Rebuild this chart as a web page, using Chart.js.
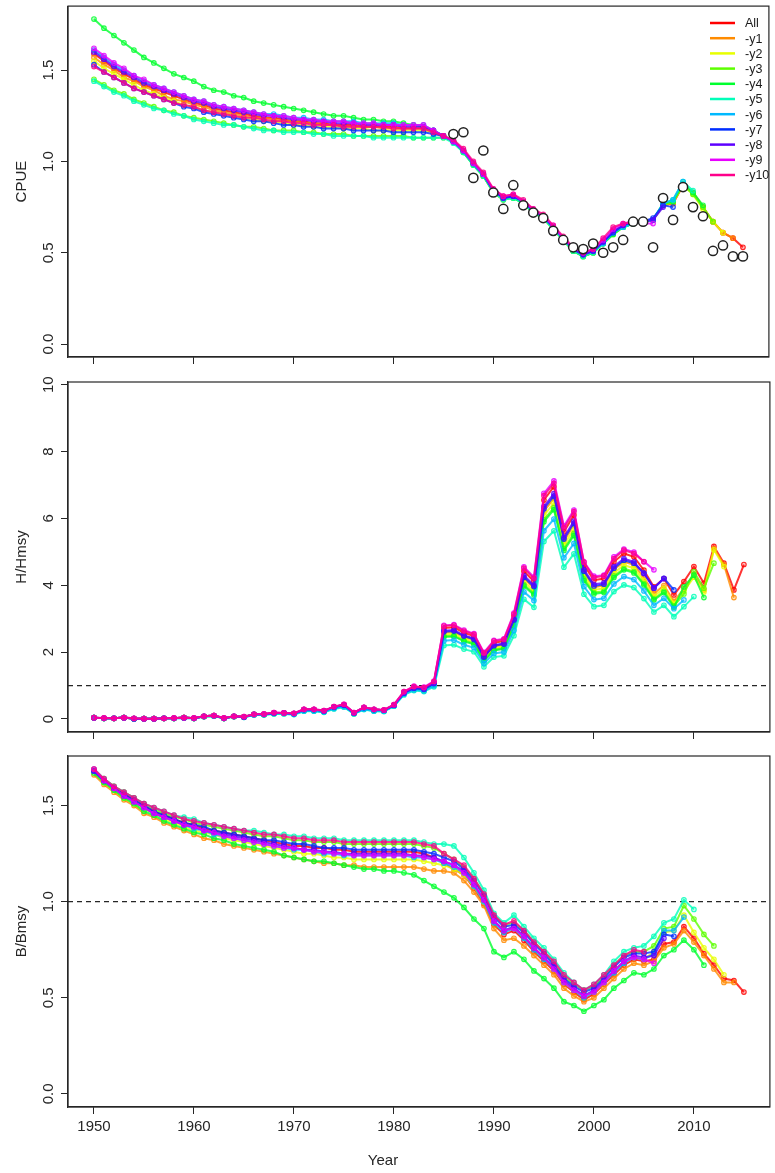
<!DOCTYPE html>
<html>
<head>
<meta charset="utf-8">
<title>Retrospective analysis: CPUE, H/Hmsy, B/Bmsy</title>
<script src="https://cdn.jsdelivr.net/npm/chart.js@4.4.1/dist/chart.umd.min.js"></script>
<style>
  html, body { margin: 0; padding: 0; background: #fff; }
  #page { position: relative; width: 775px; height: 1173px; overflow: hidden; }
  #page canvas { position: absolute; left: 0; }
</style>
</head>
<body>
<div id="page">
  <canvas id="cpueChart" width="775" height="372" style="top:0px"></canvas>
  <canvas id="hChart" width="775" height="372" style="top:372px"></canvas>
  <canvas id="bChart" width="775" height="429" style="top:744px"></canvas>
</div>
<script>
/**
 * Retrospective runs (All, -y1 ... -y10) for CPUE, H/Hmsy and B/Bmsy
 */

const FONT = "'Liberation Sans', Arial, Helvetica, sans-serif";
const INK = '#262626';

const YEARS = [
    1950, 1951, 1952, 1953, 1954, 1955, 1956, 1957, 1958, 1959,
    1960, 1961, 1962, 1963, 1964, 1965, 1966, 1967, 1968, 1969,
    1970, 1971, 1972, 1973, 1974, 1975, 1976, 1977, 1978, 1979,
    1980, 1981, 1982, 1983, 1984, 1985, 1986, 1987, 1988, 1989,
    1990, 1991, 1992, 1993, 1994, 1995, 1996, 1997, 1998, 1999,
    2000, 2001, 2002, 2003, 2004, 2005, 2006, 2007, 2008, 2009,
    2010, 2011, 2012, 2013, 2014, 2015
];
const OBS_YEARS = [
    1986, 1987, 1988, 1989,
    1990, 1991, 1992, 1993, 1994, 1995, 1996, 1997, 1998, 1999,
    2000, 2001, 2002, 2003, 2004, 2005, 2006, 2007, 2008, 2009,
    2010, 2011, 2012, 2013, 2014, 2015
];

const X_MIN = 1947.4;
const X_MAX = 2017.6;
const X_TICKS = [1950, 1960, 1970, 1980, 1990, 2000, 2010];
const CPUE_TICKS = [0, 0.5, 1, 1.5];
const H_TICKS = [0, 2, 4, 6, 8, 10];
const B_TICKS = [0, 0.5, 1, 1.5];
const REF_LEVEL = 1;

const SERIES_LABELS = ['All', '-y1', '-y2', '-y3', '-y4', '-y5', '-y6', '-y7', '-y8', '-y9', '-y10'];
const SERIES_COLORS = ['#FF0000', '#FF8B00', '#E8FF00', '#5DFF00', '#00FF2E', '#00FFB9',
                       '#00B9FF', '#002EFF', '#5D00FF', '#E800FF', '#FF008B'];

// ---------- CPUE (fitted) ----------
const CPUE_ALL = [
    1.59,1.55,1.51,1.48,1.45,1.42,1.40,1.38,1.36,1.34,
    1.32,1.31,1.29,1.28,1.27,1.26,1.25,1.24,1.24,1.23,
    1.22,1.22,1.21,1.21,1.20,1.20,1.20,1.19,1.19,1.19,
    1.19,1.18,1.18,1.18,1.16,1.14,1.11,1.06,0.99,0.93,
    0.84,0.80,0.81,0.78,0.73,0.70,0.64,0.58,0.52,0.49,
    0.51,0.56,0.61,0.65,0.67,0.67,0.68,0.76,0.77,0.87,
    0.83,0.75,0.67,0.61,0.58,0.53
];
const CPUE_Y1 = [
    1.57,1.53,1.50,1.46,1.44,1.41,1.39,1.36,1.34,1.33,
    1.31,1.30,1.28,1.27,1.26,1.25,1.24,1.24,1.23,1.22,
    1.22,1.21,1.21,1.20,1.20,1.19,1.19,1.19,1.19,1.18,
    1.18,1.18,1.18,1.18,1.16,1.14,1.11,1.06,0.99,0.92,
    0.83,0.79,0.81,0.77,0.72,0.69,0.63,0.57,0.51,0.48,
    0.50,0.56,0.61,0.64,0.67,0.67,0.68,0.76,0.77,0.87,
    0.83,0.75,0.67,0.61,0.58
];
const CPUE_Y2 = [
    1.55,1.51,1.48,1.45,1.42,1.39,1.37,1.35,1.33,1.31,
    1.30,1.28,1.27,1.26,1.25,1.24,1.23,1.22,1.22,1.21,
    1.20,1.20,1.19,1.19,1.19,1.18,1.18,1.18,1.17,1.17,
    1.17,1.17,1.17,1.17,1.16,1.14,1.11,1.06,0.99,0.93,
    0.84,0.80,0.80,0.78,0.73,0.70,0.64,0.58,0.52,0.49,
    0.51,0.55,0.61,0.64,0.66,0.67,0.68,0.76,0.78,0.87,
    0.82,0.74,0.67,0.61
];
const CPUE_Y3 = [
    1.45,1.42,1.39,1.37,1.34,1.32,1.30,1.28,1.27,1.25,
    1.24,1.23,1.22,1.21,1.20,1.19,1.19,1.18,1.17,1.17,
    1.17,1.16,1.16,1.15,1.15,1.15,1.14,1.14,1.14,1.14,
    1.14,1.14,1.13,1.13,1.13,1.13,1.11,1.05,0.98,0.92,
    0.83,0.79,0.80,0.77,0.72,0.69,0.63,0.57,0.51,0.48,
    0.50,0.55,0.60,0.64,0.66,0.67,0.68,0.76,0.78,0.87,
    0.82,0.75,0.67
];
const CPUE_Y4 = [
    1.78,1.73,1.69,1.65,1.61,1.57,1.54,1.51,1.48,1.46,
    1.44,1.41,1.39,1.38,1.36,1.35,1.33,1.32,1.31,1.30,
    1.29,1.28,1.27,1.26,1.25,1.25,1.24,1.23,1.23,1.22,
    1.22,1.21,1.20,1.19,1.17,1.14,1.11,1.05,0.98,0.92,
    0.84,0.80,0.80,0.77,0.72,0.69,0.63,0.57,0.51,0.48,
    0.50,0.55,0.60,0.64,0.66,0.67,0.68,0.77,0.78,0.88,
    0.83,0.76
];
const CPUE_Y5 = [
    1.44,1.41,1.38,1.36,1.33,1.31,1.29,1.28,1.26,1.25,
    1.23,1.22,1.21,1.20,1.20,1.19,1.18,1.17,1.17,1.16,
    1.16,1.16,1.15,1.15,1.14,1.14,1.14,1.14,1.13,1.13,
    1.13,1.13,1.13,1.13,1.13,1.13,1.10,1.05,0.98,0.92,
    0.83,0.79,0.80,0.77,0.72,0.69,0.63,0.57,0.51,0.48,
    0.50,0.55,0.61,0.64,0.66,0.67,0.68,0.77,0.79,0.89,
    0.84
];
const CPUE_Y6 = [
    1.61,1.57,1.53,1.50,1.47,1.44,1.42,1.40,1.38,1.36,
    1.34,1.33,1.31,1.30,1.29,1.28,1.27,1.26,1.26,1.25,
    1.24,1.24,1.23,1.23,1.22,1.22,1.22,1.21,1.21,1.21,
    1.21,1.20,1.20,1.20,1.17,1.14,1.11,1.06,0.99,0.93,
    0.84,0.80,0.81,0.78,0.73,0.70,0.64,0.58,0.52,0.49,
    0.51,0.55,0.61,0.64,0.66,0.67,0.68,0.77,0.79,0.89
];
const CPUE_Y7 = [
    1.53,1.49,1.46,1.43,1.40,1.38,1.36,1.34,1.32,1.30,
    1.29,1.27,1.26,1.25,1.24,1.23,1.22,1.22,1.21,1.20,
    1.20,1.19,1.19,1.18,1.18,1.18,1.17,1.17,1.17,1.17,
    1.16,1.16,1.16,1.16,1.15,1.14,1.11,1.06,0.99,0.93,
    0.84,0.80,0.81,0.78,0.73,0.70,0.64,0.58,0.52,0.49,
    0.51,0.56,0.61,0.65,0.67,0.67,0.69,0.76,0.75
];
const CPUE_Y8 = [
    1.60,1.56,1.52,1.49,1.46,1.43,1.41,1.39,1.37,1.35,
    1.33,1.32,1.30,1.29,1.28,1.27,1.26,1.25,1.25,1.24,
    1.23,1.23,1.22,1.22,1.21,1.21,1.21,1.20,1.20,1.20,
    1.20,1.19,1.19,1.19,1.17,1.14,1.11,1.06,0.99,0.93,
    0.84,0.80,0.81,0.78,0.73,0.70,0.64,0.58,0.52,0.49,
    0.51,0.56,0.62,0.65,0.67,0.67,0.68,0.75
];
const CPUE_Y9 = [
    1.62,1.58,1.54,1.51,1.47,1.45,1.42,1.40,1.38,1.36,
    1.34,1.33,1.31,1.30,1.29,1.28,1.27,1.26,1.25,1.25,
    1.24,1.23,1.23,1.22,1.22,1.22,1.21,1.21,1.21,1.20,
    1.20,1.20,1.20,1.20,1.17,1.14,1.11,1.06,0.99,0.93,
    0.85,0.81,0.82,0.78,0.74,0.70,0.65,0.58,0.53,0.50,
    0.52,0.57,0.63,0.66,0.67,0.66,0.66
];
const CPUE_Y10 = [
    1.52,1.49,1.46,1.43,1.40,1.38,1.36,1.34,1.32,1.31,
    1.30,1.28,1.27,1.26,1.25,1.24,1.24,1.23,1.22,1.22,
    1.21,1.21,1.20,1.20,1.20,1.19,1.19,1.19,1.19,1.19,
    1.18,1.18,1.18,1.18,1.16,1.14,1.12,1.07,1.00,0.94,
    0.85,0.81,0.82,0.79,0.74,0.71,0.65,0.59,0.53,0.50,
    0.52,0.58,0.64,0.66,0.67,0.67
];
// observed CPUE index (1986-2015)
const CPUE_OBS = [
    1.15,1.16,0.91,1.06,
    0.83,0.74,0.87,0.76,0.72,0.69,0.62,0.57,0.53,0.52,
    0.55,0.50,0.53,0.57,0.67,0.67,0.53,0.80,0.68,0.86,
    0.75,0.70,0.51,0.54,0.48,0.48
];

// ---------- H/Hmsy ----------
const H_ALL = [
    0.04,0.02,0.02,0.04,0.01,0.01,0.01,0.02,0.02,0.04,
    0.02,0.08,0.10,0.02,0.08,0.06,0.14,0.14,0.18,0.18,
    0.16,0.28,0.28,0.24,0.36,0.42,0.18,0.34,0.28,0.26,
    0.42,0.80,0.95,0.92,1.10,2.72,2.74,2.58,2.48,1.93,
    2.28,2.33,3.08,4.42,4.12,6.55,6.95,5.60,6.10,4.60,
    4.15,4.20,4.70,4.95,4.85,4.45,3.95,4.20,3.71,4.11,
    4.56,4.06,5.16,4.66,3.86,4.62
];
const H_Y1 = [
    0.04,0.02,0.02,0.04,0.01,0.01,0.01,0.02,0.02,0.04,
    0.02,0.08,0.10,0.02,0.08,0.06,0.14,0.14,0.18,0.18,
    0.16,0.28,0.28,0.24,0.36,0.42,0.18,0.34,0.28,0.26,
    0.41,0.78,0.92,0.89,1.06,2.58,2.60,2.45,2.36,1.83,
    2.17,2.21,2.93,4.20,3.91,6.22,6.60,5.32,5.80,4.37,
    3.94,3.99,4.47,4.70,4.61,4.23,3.75,3.99,3.52,3.90,
    4.33,3.86,5.10,4.62,3.63
];
const H_Y2 = [
    0.04,0.02,0.02,0.04,0.01,0.01,0.01,0.02,0.02,0.04,
    0.02,0.08,0.10,0.02,0.08,0.06,0.14,0.14,0.18,0.18,
    0.16,0.28,0.28,0.24,0.36,0.42,0.18,0.34,0.28,0.26,
    0.40,0.77,0.91,0.88,1.04,2.53,2.55,2.40,2.31,1.79,
    2.12,2.17,2.86,4.11,3.83,6.09,6.46,5.21,5.67,4.28,
    3.86,3.91,4.37,4.60,4.51,4.14,3.67,3.91,3.45,3.82,
    4.24,3.80,5.06,4.56
];
const H_Y3 = [
    0.04,0.02,0.02,0.04,0.01,0.01,0.01,0.02,0.02,0.04,
    0.02,0.07,0.09,0.02,0.07,0.06,0.13,0.13,0.16,0.17,
    0.15,0.25,0.25,0.22,0.33,0.38,0.16,0.31,0.25,0.24,
    0.40,0.76,0.90,0.87,1.03,2.48,2.49,2.35,2.26,1.76,
    2.07,2.12,2.80,4.02,3.75,5.96,6.32,5.10,5.55,4.19,
    3.78,3.82,4.28,4.50,4.41,4.05,3.59,3.82,3.38,3.74,
    4.41,3.91,4.66
];
const H_Y4 = [
    0.04,0.02,0.02,0.04,0.01,0.01,0.01,0.02,0.02,0.04,
    0.02,0.07,0.09,0.02,0.07,0.06,0.13,0.13,0.16,0.17,
    0.15,0.25,0.25,0.22,0.33,0.38,0.16,0.31,0.25,0.24,
    0.40,0.76,0.90,0.86,1.02,2.45,2.47,2.32,2.23,1.74,
    2.05,2.10,2.77,3.98,3.71,5.90,6.26,5.04,5.49,4.14,
    3.74,3.78,4.23,4.46,4.37,4.01,3.56,3.78,3.34,3.95,
    4.30,3.63
];
const H_Y5 = [
    0.04,0.02,0.02,0.04,0.01,0.01,0.01,0.02,0.02,0.03,
    0.02,0.07,0.09,0.02,0.07,0.05,0.12,0.12,0.15,0.15,
    0.13,0.23,0.23,0.20,0.30,0.35,0.15,0.28,0.23,0.22,
    0.38,0.72,0.85,0.82,0.96,2.20,2.22,2.09,2.01,1.56,
    1.85,1.89,2.49,3.58,3.34,5.31,5.63,4.54,4.94,3.73,
    3.36,3.40,3.81,4.01,3.93,3.60,3.20,3.40,3.06,3.36,
    3.66
];
const H_Y6 = [
    0.04,0.02,0.02,0.04,0.01,0.01,0.01,0.02,0.02,0.03,
    0.02,0.07,0.09,0.02,0.07,0.05,0.12,0.13,0.16,0.16,
    0.14,0.24,0.24,0.21,0.31,0.37,0.16,0.29,0.24,0.23,
    0.39,0.74,0.87,0.84,0.99,2.34,2.36,2.22,2.13,1.66,
    1.96,2.00,2.65,3.80,3.54,5.63,5.98,4.82,5.25,3.96,
    3.57,3.61,4.04,4.26,4.17,3.83,3.40,3.61,3.30,3.56
];
const H_Y7 = [
    0.04,0.02,0.02,0.04,0.01,0.01,0.01,0.02,0.02,0.04,
    0.02,0.08,0.10,0.02,0.08,0.06,0.14,0.14,0.18,0.18,
    0.16,0.28,0.28,0.24,0.36,0.42,0.18,0.34,0.28,0.26,
    0.41,0.78,0.92,0.89,1.06,2.61,2.63,2.48,2.38,1.85,
    2.19,2.24,2.96,4.24,3.96,6.29,6.67,5.38,5.86,4.42,
    3.98,4.03,4.51,4.75,4.66,4.36,3.91,4.21,3.86
];
const H_Y8 = [
    0.04,0.02,0.02,0.04,0.01,0.01,0.01,0.02,0.02,0.04,
    0.02,0.08,0.10,0.02,0.08,0.06,0.14,0.14,0.18,0.18,
    0.16,0.28,0.28,0.24,0.36,0.42,0.18,0.34,0.28,0.26,
    0.41,0.78,0.93,0.90,1.07,2.64,2.66,2.50,2.41,1.87,
    2.21,2.26,2.99,4.29,4.00,6.35,6.74,5.43,5.92,4.46,
    4.03,4.07,4.56,4.80,4.70,4.35,3.92,4.20
];
const H_Y9 = [
    0.04,0.03,0.02,0.04,0.02,0.01,0.01,0.02,0.03,0.04,
    0.03,0.08,0.10,0.03,0.08,0.07,0.14,0.15,0.19,0.18,
    0.17,0.29,0.29,0.25,0.37,0.44,0.19,0.35,0.29,0.27,
    0.43,0.82,0.98,0.95,1.13,2.80,2.82,2.66,2.55,1.99,
    2.35,2.40,3.17,4.55,4.24,6.75,7.12,5.77,6.25,4.70,
    4.27,4.30,4.85,5.08,4.99,4.71,4.46
];
const H_Y10 = [
    0.04,0.03,0.02,0.04,0.02,0.01,0.01,0.02,0.03,0.04,
    0.03,0.08,0.10,0.03,0.08,0.07,0.14,0.15,0.19,0.18,
    0.17,0.29,0.29,0.25,0.37,0.44,0.19,0.35,0.29,0.27,
    0.43,0.82,0.97,0.94,1.12,2.78,2.80,2.63,2.53,1.97,
    2.33,2.38,3.14,4.51,4.20,6.68,7.05,5.71,6.20,4.69,
    4.23,4.28,4.80,5.05,4.95,4.70
];

// ---------- B/Bmsy ----------
const B_ALL = [
    1.68,1.63,1.59,1.56,1.53,1.50,1.47,1.45,1.43,1.41,
    1.40,1.38,1.37,1.36,1.35,1.34,1.33,1.32,1.31,1.30,
    1.29,1.29,1.28,1.28,1.27,1.27,1.26,1.26,1.26,1.26,
    1.26,1.26,1.26,1.25,1.23,1.20,1.17,1.14,1.07,0.99,
    0.88,0.83,0.85,0.80,0.74,0.69,0.64,0.57,0.53,0.49,
    0.52,0.57,0.62,0.67,0.70,0.69,0.70,0.78,0.79,0.87,
    0.81,0.73,0.67,0.60,0.59,0.53
];
const B_Y1 = [
    1.66,1.61,1.57,1.53,1.50,1.46,1.44,1.41,1.39,1.37,
    1.35,1.33,1.32,1.30,1.29,1.28,1.27,1.26,1.25,1.24,
    1.23,1.22,1.21,1.20,1.20,1.19,1.19,1.18,1.18,1.18,
    1.18,1.18,1.18,1.17,1.16,1.16,1.15,1.11,1.05,0.98,
    0.86,0.80,0.81,0.77,0.72,0.67,0.62,0.55,0.51,0.48,
    0.50,0.55,0.60,0.65,0.68,0.67,0.69,0.76,0.78,0.85,
    0.79,0.72,0.65,0.58,0.58
];
const B_Y2 = [
    1.68,1.62,1.58,1.54,1.51,1.48,1.46,1.43,1.41,1.39,
    1.37,1.36,1.35,1.33,1.32,1.31,1.30,1.29,1.28,1.27,
    1.26,1.25,1.25,1.24,1.23,1.23,1.22,1.22,1.22,1.22,
    1.22,1.22,1.22,1.21,1.20,1.19,1.17,1.14,1.08,1.00,
    0.90,0.85,0.86,0.82,0.76,0.71,0.65,0.58,0.54,0.51,
    0.53,0.58,0.64,0.69,0.71,0.70,0.74,0.84,0.85,0.93,
    0.84,0.76,0.70,0.62
];
const B_Y3 = [
    1.68,1.64,1.60,1.57,1.54,1.51,1.48,1.46,1.44,1.43,
    1.41,1.40,1.39,1.38,1.37,1.36,1.35,1.34,1.34,1.33,
    1.32,1.32,1.31,1.31,1.31,1.30,1.30,1.30,1.30,1.30,
    1.30,1.30,1.30,1.29,1.28,1.25,1.22,1.18,1.12,1.04,
    0.93,0.88,0.89,0.85,0.79,0.74,0.68,0.61,0.57,0.54,
    0.56,0.61,0.67,0.72,0.74,0.74,0.77,0.86,0.87,0.98,
    0.91,0.83,0.77
];
const B_Y4 = [
    1.67,1.62,1.58,1.54,1.51,1.47,1.45,1.42,1.40,1.38,
    1.36,1.35,1.33,1.32,1.30,1.29,1.28,1.27,1.26,1.24,
    1.23,1.22,1.21,1.21,1.20,1.19,1.18,1.17,1.17,1.16,
    1.16,1.15,1.14,1.11,1.08,1.05,1.02,0.97,0.91,0.86,
    0.74,0.71,0.74,0.70,0.64,0.60,0.55,0.48,0.46,0.43,
    0.46,0.49,0.55,0.59,0.63,0.62,0.65,0.72,0.75,0.80,
    0.75,0.67
];
const B_Y5 = [
    1.69,1.64,1.60,1.57,1.54,1.51,1.49,1.47,1.45,1.44,
    1.43,1.41,1.40,1.39,1.38,1.37,1.37,1.36,1.35,1.35,
    1.34,1.34,1.33,1.33,1.33,1.32,1.32,1.32,1.32,1.32,
    1.32,1.32,1.32,1.31,1.30,1.30,1.29,1.23,1.15,1.06,
    0.94,0.89,0.93,0.87,0.81,0.76,0.70,0.63,0.58,0.54,
    0.57,0.62,0.69,0.74,0.76,0.77,0.82,0.89,0.91,1.01,
    0.96
];
const B_Y6 = [
    1.68,1.63,1.59,1.55,1.52,1.49,1.46,1.44,1.42,1.40,
    1.38,1.37,1.35,1.34,1.33,1.32,1.31,1.30,1.29,1.28,
    1.27,1.27,1.26,1.25,1.25,1.24,1.24,1.24,1.24,1.24,
    1.24,1.24,1.23,1.23,1.22,1.20,1.18,1.15,1.08,1.00,
    0.89,0.84,0.86,0.81,0.75,0.70,0.65,0.58,0.54,0.50,
    0.53,0.58,0.63,0.68,0.71,0.70,0.73,0.85,0.85,0.92
];
const B_Y7 = [
    1.68,1.63,1.59,1.56,1.53,1.50,1.47,1.45,1.43,1.41,
    1.40,1.39,1.37,1.36,1.35,1.34,1.33,1.32,1.32,1.31,
    1.30,1.30,1.29,1.28,1.28,1.28,1.27,1.27,1.27,1.27,
    1.27,1.27,1.27,1.26,1.25,1.23,1.21,1.17,1.11,1.03,
    0.92,0.87,0.88,0.84,0.78,0.73,0.67,0.60,0.56,0.53,
    0.55,0.60,0.66,0.71,0.73,0.73,0.74,0.83,0.82
];
const B_Y8 = [
    1.68,1.63,1.59,1.55,1.52,1.49,1.46,1.44,1.42,1.40,
    1.39,1.37,1.36,1.35,1.34,1.33,1.32,1.31,1.30,1.29,
    1.28,1.27,1.27,1.26,1.26,1.25,1.25,1.25,1.25,1.25,
    1.25,1.25,1.24,1.24,1.23,1.21,1.19,1.16,1.09,1.01,
    0.90,0.85,0.87,0.82,0.76,0.71,0.66,0.59,0.55,0.51,
    0.54,0.59,0.64,0.69,0.72,0.71,0.72,0.81
];
const B_Y9 = [
    1.69,1.63,1.59,1.55,1.52,1.49,1.46,1.44,1.42,1.40,
    1.39,1.37,1.36,1.34,1.33,1.32,1.31,1.30,1.29,1.28,
    1.28,1.27,1.26,1.26,1.25,1.25,1.24,1.24,1.24,1.24,
    1.24,1.24,1.24,1.23,1.22,1.21,1.19,1.15,1.09,1.01,
    0.90,0.85,0.86,0.82,0.76,0.71,0.65,0.58,0.54,0.51,
    0.53,0.58,0.64,0.69,0.71,0.70,0.68
];
const B_Y10 = [
    1.69,1.64,1.60,1.57,1.54,1.51,1.49,1.47,1.45,1.43,
    1.42,1.41,1.40,1.39,1.38,1.37,1.36,1.35,1.35,1.34,
    1.33,1.33,1.32,1.32,1.32,1.31,1.31,1.31,1.31,1.31,
    1.31,1.31,1.31,1.30,1.29,1.25,1.22,1.19,1.12,1.04,
    0.93,0.88,0.90,0.85,0.79,0.74,0.69,0.62,0.58,0.54,
    0.57,0.62,0.67,0.72,0.75,0.74
];

document.addEventListener('DOMContentLoaded', function () {
    initializeCharts();
});

/**
 * hex colour -> rgba string
 */
function withAlpha(hex, a) {
    const n = parseInt(hex.slice(1), 16);
    return 'rgba(' + (n >> 16) + ',' + ((n >> 8) & 255) + ',' + (n & 255) + ',' + a + ')';
}

/**
 * One line dataset per retrospective run
 */
function runDatasets(seriesList) {
    return seriesList.map(function (values, i) {
        const color = SERIES_COLORS[i];
        return {
            label: SERIES_LABELS[i],
            data: values.map(function (v, k) { return { x: YEARS[k], y: v }; }),
            borderColor: withAlpha(color, 0.8),
            backgroundColor: withAlpha(color, 0.25),
            pointBorderColor: withAlpha(color, 0.85),
            pointBackgroundColor: withAlpha(color, 0.25),
            borderWidth: 2,
            pointRadius: 2.3,
            pointBorderWidth: 1.1,
            tension: 0,
            // later runs are drawn on top, as in the original plot
            order: SERIES_LABELS.length - i,
            legendColor: color
        };
    });
}

// box, dashed reference line and rotated y tick labels
const framePlugin = {
    id: 'frame',
    beforeDatasetsDraw: function (chart, args, opts) {
        if (opts.refLine == null) return;
        const a = chart.chartArea;
        const ctx = chart.ctx;
        const y = chart.scales.y.getPixelForValue(opts.refLine);
        ctx.save();
        ctx.strokeStyle = INK;
        ctx.lineWidth = 1.3;
        ctx.setLineDash([5, 4]);
        ctx.beginPath();
        ctx.moveTo(a.left, y);
        ctx.lineTo(a.right, y);
        ctx.stroke();
        ctx.restore();
    },
    afterDraw: function (chart) {
        const a = chart.chartArea;
        const ctx = chart.ctx;
        const ys = chart.scales.y;
        ctx.save();
        ctx.strokeStyle = INK;
        ctx.lineWidth = 1.2;
        ctx.strokeRect(a.left, a.top, a.right - a.left, a.bottom - a.top);

        ctx.fillStyle = INK;
        ctx.font = '15px ' + FONT;
        ctx.textAlign = 'center';
        ctx.textBaseline = 'middle';
        ys.ticks.forEach(function (t) {
            ctx.save();
            ctx.translate(49, ys.getPixelForValue(t.value));
            ctx.rotate(-Math.PI / 2);
            ctx.fillText(t.label, 0, 0);
            ctx.restore();
        });
        ctx.restore();
    }
};

// legend box in the top-right corner of the CPUE panel
const runLegendPlugin = {
    id: 'runLegend',
    afterDraw: function (chart) {
        const ctx = chart.ctx;
        const runs = chart.data.datasets.filter(function (d) { return d.legendColor; });
        ctx.save();
        ctx.font = '12.5px ' + FONT;
        ctx.textBaseline = 'middle';
        ctx.textAlign = 'left';
        runs.forEach(function (d, i) {
            const y = 23 + i * 15.2;
            ctx.strokeStyle = d.legendColor;
            ctx.lineWidth = 2.5;
            ctx.beginPath();
            ctx.moveTo(710, y);
            ctx.lineTo(735, y);
            ctx.stroke();
            ctx.fillStyle = '#1a1a1a';
            ctx.fillText(d.label, 745, y + 1);
        });
        ctx.restore();
    }
};

// "Year" label under the bottom panel
const yearLabelPlugin = {
    id: 'yearLabel',
    afterDraw: function (chart) {
        const ctx = chart.ctx;
        ctx.save();
        ctx.fillStyle = INK;
        ctx.font = '15px ' + FONT;
        ctx.textAlign = 'center';
        ctx.textBaseline = 'middle';
        ctx.fillText('Year', 383, 417);
        ctx.restore();
    }
};

function panelOptions(cfg) {
    return {
        responsive: false,
        animation: false,
        events: [],
        layout: { padding: { top: cfg.padTop, right: 1, bottom: 0, left: 0 } },
        plugins: {
            legend: { display: false },
            tooltip: { enabled: false },
            frame: { refLine: cfg.refLine }
        },
        scales: {
            x: {
                type: 'linear',
                min: X_MIN,
                max: X_MAX,
                afterBuildTicks: function (s) { s.ticks = X_TICKS.map(function (v) { return { value: v }; }); },
                afterFit: function (s) { s.height = cfg.xHeight; },
                ticks: {
                    display: cfg.xLabels,
                    autoSkip: false,
                    maxRotation: 0,
                    padding: 4,
                    color: INK,
                    font: { family: FONT, size: 15 },
                    callback: function (v) { return String(v); }
                },
                grid: { drawOnChartArea: false, drawTicks: true, tickLength: 7, color: INK, lineWidth: 1 },
                border: { display: true, color: INK, width: 1.2 }
            },
            y: {
                type: 'linear',
                min: cfg.yMin,
                max: cfg.yMax,
                afterBuildTicks: function (s) { s.ticks = cfg.yTicks.map(function (v) { return { value: v }; }); },
                afterFit: function (s) { s.width = 68; },
                ticks: {
                    display: false,
                    autoSkip: false,
                    callback: cfg.yFormat
                },
                grid: { drawOnChartArea: false, drawTicks: true, tickLength: 7, color: INK, lineWidth: 1 },
                border: { display: true, color: INK, width: 1.2 },
                title: {
                    display: true,
                    text: cfg.yTitle,
                    color: INK,
                    font: { family: FONT, size: 15 },
                    padding: { top: 13, bottom: 0 }
                }
            }
        }
    };
}

function initializeCharts() {
    const oneDecimal = function (v) { return Number(v).toFixed(1); };
    const integer = function (v) { return String(v); };

    // CPUE panel with observed index
    const cpueSets = runDatasets([CPUE_ALL, CPUE_Y1, CPUE_Y2, CPUE_Y3, CPUE_Y4, CPUE_Y5,
                                  CPUE_Y6, CPUE_Y7, CPUE_Y8, CPUE_Y9, CPUE_Y10]);
    cpueSets.push({
        label: 'Observed',
        data: CPUE_OBS.map(function (v, k) { return { x: OBS_YEARS[k], y: v }; }),
        showLine: false,
        pointRadius: 4.6,
        pointBorderWidth: 1.5,
        pointBorderColor: '#222',
        pointBackgroundColor: '#fff',
        borderColor: '#222',
        backgroundColor: '#fff',
        order: 0
    });
    new Chart(document.getElementById('cpueChart'), {
        type: 'line',
        data: { datasets: cpueSets },
        options: panelOptions({
            padTop: 6, xHeight: 15, xLabels: false,
            yMin: -0.071, yMax: 1.851, yTicks: CPUE_TICKS, yFormat: oneDecimal,
            yTitle: 'CPUE', refLine: null
        }),
        plugins: [framePlugin, runLegendPlugin]
    });

    new Chart(document.getElementById('hChart'), {
        type: 'line',
        data: {
            datasets: runDatasets([H_ALL, H_Y1, H_Y2, H_Y3, H_Y4, H_Y5,
                                   H_Y6, H_Y7, H_Y8, H_Y9, H_Y10])
        },
        options: panelOptions({
            padTop: 10, xHeight: 12, xLabels: false,
            yMin: -0.39, yMax: 10.08, yTicks: H_TICKS, yFormat: integer,
            yTitle: 'H/Hmsy', refLine: REF_LEVEL
        }),
        plugins: [framePlugin]
    });

    new Chart(document.getElementById('bChart'), {
        type: 'line',
        data: {
            datasets: runDatasets([B_ALL, B_Y1, B_Y2, B_Y3, B_Y4, B_Y5,
                                   B_Y6, B_Y7, B_Y8, B_Y9, B_Y10])
        },
        options: panelOptions({
            padTop: 12, xHeight: 66, xLabels: true,
            yMin: -0.068, yMax: 1.758, yTicks: B_TICKS, yFormat: oneDecimal,
            yTitle: 'B/Bmsy', refLine: REF_LEVEL
        }),
        plugins: [framePlugin, yearLabelPlugin]
    });
}
</script>
</body>
</html>
